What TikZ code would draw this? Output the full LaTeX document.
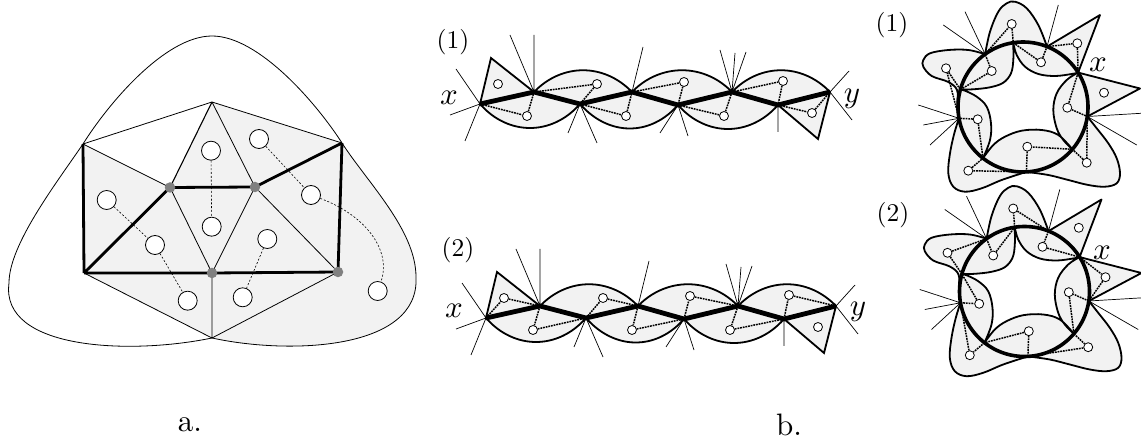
\documentclass[tikz,border=0pt]{standalone}
\usepackage{graphicx}
\usetikzlibrary{calc}
\newcommand\mychain[3]{%
\begin{scope}[shift={(#2,#3)}]
\coordinate (#1p0) at (480,104);
\coordinate (#1p1) at (534,92);
\coordinate (#1p2) at (580,104);
\coordinate (#1p3) at (632,92);
\coordinate (#1p4) at (678,105);
\coordinate (#1p5) at (732,92);
\coordinate (#1p6) at (778,105);
\coordinate (#1p7) at (830,92);
\coordinate (#1t1) at (491,58);
\coordinate (#1t2) at (818,139);
\coordinate (#1r0a) at (456,69); \coordinate (#1r0b) at (450,115); \coordinate (#1r0c) at (465,141);
\coordinate (#1r1a) at (510,35); \coordinate (#1r1b) at (534,35);
\coordinate (#1r2a) at (568,133); \coordinate (#1r2b) at (597,143);
\coordinate (#1r3a) at (643,47);
\coordinate (#1r4a) at (660,133); \coordinate (#1r4b) at (688,136);
\coordinate (#1r5a) at (720,50); \coordinate (#1r5b) at (735,53); \coordinate (#1r5c) at (746,52);
\coordinate (#1r6a) at (778,132);
\coordinate (#1r7a) at (849,71); \coordinate (#1r7b) at (852,120);
\draw[ray] (#1p0)--(#1r0a) (#1p0)--(#1r0b) (#1p0)--(#1r0c)
  (#1p1)--(#1r1a) (#1p1)--(#1r1b) (#1p2)--(#1r2a) (#1p2)--(#1r2b)
  (#1p3)--(#1r3a) (#1p4)--(#1r4a) (#1p4)--(#1r4b)
  (#1p5)--(#1r5a) (#1p5)--(#1r5b) (#1p5)--(#1r5c) (#1p6)--(#1r6a)
  (#1p7)--(#1r7a) (#1p7)--(#1r7b);
\filldraw[shade, outline, line join=miter] (#1p0) -- (#1t1) -- (#1p1)
  .. controls +(28,-29) and +(-28,-29) .. (#1p3)
  .. controls +(28,-29) and +(-28,-29) .. (#1p5)
  .. controls +(28,-29) and +(-28,-29) .. (#1p7) -- (#1t2) -- (#1p6)
  .. controls +(-28,32) and +(28,32) .. (#1p4)
  .. controls +(-28,32) and +(28,32) .. (#1p2)
  .. controls +(-28,32) and +(28,32) .. (#1p0) -- cycle;
\draw[spine, line join=miter] (#1p0)--(#1p1)--(#1p2)--(#1p3)--(#1p4)--(#1p5)--(#1p6)--(#1p7);
\node[sface] (#1c1) at (498,84) {};
\node[sface] (#1c2) at (527,116) {};
\node[sface] (#1c3) at (597,84) {};
\node[sface] (#1c4) at (626,116) {};
\node[sface] (#1c5) at (684,82) {};
\node[sface] (#1c6) at (724,116) {};
\node[sface] (#1c7) at (783,81) {};
\node[sface] (#1c8) at (812,113) {};
\end{scope}}
\newcommand\myring[3]{%
\begin{scope}[shift={(#2,#3)}]
\coordinate (#1c) at (0,0);
\coordinate (#1I1) at (-62.6,-17.4);
\coordinate (#1O1) at (-37.9,-52.8);
\coordinate (#1I2) at (-9.8,-64.3);
\coordinate (#1O2) at (24.0,-60.4);
\coordinate (#1I3) at (55.1,-34.4);
\coordinate (#1O3) at (64.3,9.5);
\coordinate (#1I4) at (49.4,42.3);
\coordinate (#1O4) at (3.4,64.9);
\coordinate (#1I5) at (-40.0,51.2);
\coordinate (#1O5) at (-64.0,11.3);
\coordinate (#1t1) at (77,-92);
\coordinate (#1t2) at (117,-18.5);
\coordinate (#1ra) at (-58,-95.3); \coordinate (#1rb) at (-79.7,-82);
\coordinate (#1rc) at (35.3,-102);
\coordinate (#1rd) at (118,6.3); \coordinate (#1re) at (113.7,38);
\coordinate (#1rf) at (-104.7,-2); \coordinate (#1rg) at (-99.7,18); \coordinate (#1rh) at (-93,38);
\draw[ray] (#1O1)--(#1ra) (#1O1)--(#1rb) (#1O2)--(#1rc) (#1O3)--(#1rd) (#1O3)--(#1re)
  (#1O5)--(#1rf) (#1O5)--(#1rg) (#1O5)--(#1rh);
\filldraw[shade, outline, line join=round, even odd rule]
  (#1O1) -- plot[smooth, tension=0.6] coordinates {(#1O1) (-33,-75.3) (-24.7,-95.3) (-16.3,-103.7) (-8,-105.3) (3.7,-98.7) (15.3,-82) (#1O2)}
  -- (#1t1) -- (#1I3) -- (#1t2) -- (#1O3)
  -- plot[smooth, tension=0.6] coordinates {(#1O3) (73.7,21.3) (85.3,36.3) (93.7,51.3) (97,66.3) (93.7,76.3) (82,79.7) (65.3,78) (45.3,73) (25.3,68) (#1O4)}
  -- plot[smooth, tension=0.6] coordinates {(#1O4) (-21.3,73) (-41.3,81.3) (-58,84.7) (-69.7,79.7) (-74.7,66.3) (-73,46.3) (-68.7,26.3) (#1O5)}
  -- plot[smooth, tension=0.6] coordinates {(#1O5) (-65.5,-3) (-66,-17) (-74.7,-25) (-91.3,-31) (-99.7,-40.3) (-99.7,-47) (-93,-53.7) (-74.7,-57) (-54.7,-57) (#1O1)}
  -- cycle
  (#1I1) -- plot[smooth, tension=0.6] coordinates {(#1I1) (-49.7,-17.7) (-33,-19.7) (-19.7,-24.3) (-12,-33.7) (-9.7,-47) (#1I2)}
  -- plot[smooth, tension=0.6] coordinates {(#1I2) (-6.3,-52) (2,-40.3) (15.3,-33) (32,-31) (48.7,-33) (#1I3)}
  -- plot[smooth, tension=0.6] coordinates {(#1I3) (43.7,-27) (33.7,-13.7) (30.3,3) (33.7,21.3) (40.3,33) (#1I4)}
  -- plot[smooth, tension=0.6] coordinates {(#1I4) (35.3,28) (18.7,23) (-1.3,23.7) (-18,29.7) (-29.7,38) (#1I5)}
  -- plot[smooth, tension=0.6] coordinates {(#1I5) (-33,33) (-32,16.3) (-36.3,-0.3) (-46.3,-10.3) (-58,-16.3) (#1I1)}
  -- cycle;
\draw[ringline] (#1c) circle (65pt);
\node[sface] (#1k1) at (-11.3,-83) {};
\node[sface] (#1k2) at (54.3,-63.7) {};
\node[sface] (#1k3) at (18,-44.7) {};
\node[sface] (#1k4) at (-77,-38.7) {};
\node[sface] (#1k5) at (-31.3,-36) {};
\node[sface] (#1k6) at (81,-14.3) {};
\node[sface] (#1k7) at (44.3,0.7) {};
\node[sface] (#1k8) at (-45.3,12.3) {};
\node[sface] (#1k9) at (4.3,39.7) {};
\node[sface] (#1k10) at (63.7,55.7) {};
\node[sface] (#1k11) at (-54.7,63.7) {};
\end{scope}}
\newcommand\bigtxt[1]{\scalebox{3.1}{#1}}
\newcommand\midtxt[1]{\scalebox{2.55}{#1}}
\begin{document}
\begin{tikzpicture}[x=1pt,y=-1pt,
  thinedge/.style={line width=0.8pt},
  thickedge/.style={line width=2.8pt},
  dual/.style={line width=0.6pt, dash pattern=on 2pt off 1.8pt},
  face/.style={circle, draw, fill=white, line width=0.8pt, minimum size=19pt, inner sep=0pt},
  gdot/.style={circle, fill=black!50, minimum size=10.5pt, inner sep=0pt},
  shade/.style={fill=black!5},
  spine/.style={line width=4.8pt},
  outline/.style={line width=1.8pt},
  ray/.style={line width=0.7pt},
  ringline/.style={line width=3.6pt},
  cdual/.style={line width=1.5pt, dash pattern=on 1.8pt off 0.9pt},
  sface/.style={circle, draw, fill=white, line width=0.8pt, minimum size=9pt, inner sep=0pt},
  lbl/.style={inner sep=0pt},
  num/.style={inner sep=0pt},
]
\useasboundingbox (0,0) rectangle (1141,443);
% ---------------- part a ----------------
\coordinate (T) at (212,102);
\coordinate (UL) at (83,144);
\coordinate (UR) at (342,143);
\coordinate (G1) at (170,187.5);
\coordinate (G2) at (255,187);
\coordinate (BL) at (84,273);
\coordinate (G3) at (212,273);
\coordinate (G4) at (338,272);
\coordinate (B) at (212,338);
\coordinate (OL) at (9,283);
\coordinate (OT) at (212,36);
\coordinate (OR) at (416,277);
\fill[shade] (UL) -- (G1) -- (T) -- (UR) .. controls (367,182) and (416,230) .. (OR)
  .. controls (420,350) and (290,355) .. (B) -- (BL) -- cycle;
\draw[thinedge] (B) .. controls (130,355) and (0,350) .. (OL)
  .. controls (9,245) and (55,185) .. (UL) .. controls (108,104) and (165,36) .. (OT)
  .. controls (259,36) and (317,104) .. (UR) .. controls (367,182) and (416,230) .. (OR)
  .. controls (420,350) and (290,355) .. (B);
\draw[thinedge] (T)--(UL) (T)--(UR) (UL)--(G1) (T)--(G2) (G1)--(G3)
  (G2)--(G3) (G2)--(G4) (BL)--(B) (G3)--(B) (G4)--(B);
\draw[line width=1.1pt] (T)--(G1);
\draw[thickedge] (UL)--(BL) (G1)--(BL) (BL)--(G3) (G3)--(G4) (G1)--(G2) (G2)--(UR) (UR)--(G4);
\foreach \g in {G1,G2,G3,G4} \node[gdot] (d\g) at (\g) {};
\node[face] (f1) at (106.7,200) {};
\node[face] (f2) at (155,245) {};
\node[face] (f3) at (187.7,300.7) {};
\node[face] (f4) at (211,150.7) {};
\node[face] (f5) at (211.7,226.7) {};
\node[face] (f6) at (259,139) {};
\node[face] (f7) at (311,195) {};
\node[face] (f8) at (267.3,239) {};
\node[face] (f9) at (242.7,297.3) {};
\node[face] (f10) at (377.7,291) {};
\draw[dual] (f1)--(f2) (f2)--(f3) (f4)--(f5) (f8)--(f9) (f6)--(f7);
\draw[dual] (f7) .. controls (365,215) and (392,250) .. (f10);
\node[lbl] (la) at (190,425) {\bigtxt{a.}};
\node[lbl] (lb) at (789,425) {\bigtxt{b.}};
% ---------------- chains ----------------
\mychain{u}{0}{0}
\mychain{v}{6}{214}
\draw[cdual] (up0)--(uc2) (uc2)--(up1) (up1)--(uc3) (uc3)--(up2) (up2)--(uc4) (uc4)--(up3)
  (up3)--(uc5) (uc5)--(up4) (up4)--(uc6) (uc6)--(up5) (up5)--(uc7) (uc7)--(up6)
  (up6)--(uc8) (uc8)--(up7);
\draw[cdual] (vp0)--(vc1) (vc1)--(vp1) (vp1)--(vc2) (vc2)--(vp2) (vp2)--(vc3) (vc3)--(vp3)
  (vp3)--(vc4) (vc4)--(vp4) (vp4)--(vc5) (vc5)--(vp5) (vp5)--(vc6) (vc6)--(vp6)
  (vp6)--(vc7) (vc7)--(vp7);
\node[num] (n1) at (453,42) {\midtxt{(1)}};
\node[num] (n2) at (458,250) {\midtxt{(2)}};
\node[lbl] (ux) at (449,98) {\bigtxt{$x$}};
\node[lbl] (uy) at (852,99) {\bigtxt{$y$}};
\node[lbl] (vx) at (454,311) {\bigtxt{$x$}};
\node[lbl] (vy) at (858,312) {\bigtxt{$y$}};
% ---------------- rings ----------------
\myring{r}{1023}{107}
\myring{s}{1024.5}{291.5}
\draw[cdual] (rO1)--(rk1) (rk1)--(rI2) (rI2)--(rk3) (rk3)--(rO2) (rO2)--(rk2) (rk2)--(rI3)
  (rI3)--(rk7) (rk7)--(rO3) (rO3)--(rk10) (rk10)--(rI4) (rI4)--(rk9) (rk9)--(rO4)
  (rO4)--(rk11) (rk11)--(rI5) (rI5)--(rk8) (rk8)--(rO5) (rO5)--(rk4) (rk4)--(rI1)
  (rI1)--(rk5) (rk5)--(rO1);
\draw[cdual] (sO1)--(sk5) (sk5)--(sI2) (sI2)--(sk1) (sk1)--(sO2) (sO2)--(sk3) (sk3)--(sI3)
  (sI3)--(sk6) (sk6)--(sO3) (sO3)--(sk7) (sk7)--(sI4) (sI4)--(sk10) (sk10)--(sO4)
  (sO4)--(sk9) (sk9)--(sI5) (sI5)--(sk11) (sk11)--(sO5) (sO5)--(sk8) (sk8)--(sI1)
  (sI1)--(sk4) (sk4)--(sO1);
\node[num] (m1) at (892,25) {\midtxt{(1)}};
\node[num] (m2) at (893,215) {\midtxt{(2)}};
\node[lbl] (rx) at (1098,65) {\bigtxt{$x$}};
\node[lbl] (sx) at (1102,253) {\bigtxt{$x$}};
\end{tikzpicture}
\end{document}
